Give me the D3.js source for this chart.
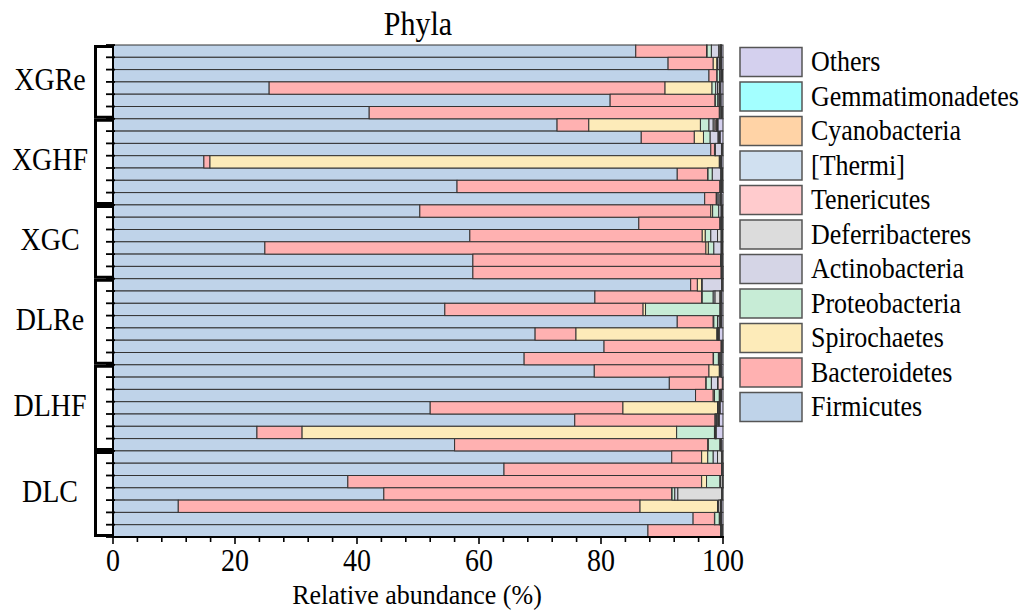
<!DOCTYPE html>
<html><head><meta charset="utf-8">
<script src="https://cdn.jsdelivr.net/npm/d3@7"></script>
<style>body{margin:0;background:#fff}svg text{font-family:"Liberation Serif","Times New Roman",serif;fill:#000}</style>
</head><body><svg id="c" width="1032" height="610"></svg>
<script>
const groups = ["XGRe","XGHF","XGC","DLRe","DLHF","DLC"];
const groupSizes = [6,7,6,7,7,7];
const phyla = ["Firmicutes","Bacteroidetes","Spirochaetes","Proteobacteria","Actinobacteria","Deferribacteres","Tenericutes","[Thermi]","Cyanobacteria","Gemmatimonadetes","Others"];
const colors = ["#bfd3e9","#ffb1b1","#fdebb9","#c7ecd6","#d5d5e6","#dcdcdc","#ffcbcd","#d0e0f0","#ffd3a6","#a3ffff","#d4d0ee"];
const Firmicutes = [85.7,91.0,97.7,25.6,81.5,42.0,72.8,86.6,98.0,14.9,92.5,56.4,97.0,50.3,86.2,58.5,24.9,59.0,59.0,94.7,79.0,54.4,92.5,69.2,80.5,67.4,78.9,91.2,95.5,52.0,75.7,23.6,56.0,91.6,64.1,38.5,44.4,10.7,95.1,87.7];
const Bacteroidetes = [11.6,7.4,1.3,64.9,17.2,57.4,5.2,8.7,0.6,1.0,5.0,43.1,1.9,47.7,13.3,38.1,72.3,40.6,40.7,1.1,17.5,32.5,5.9,6.7,19.2,31.0,18.8,6.0,2.9,31.6,23.0,7.4,41.5,4.9,35.7,58.0,47.2,75.7,3.5,11.9];
const Spirochaetes = [0.1,0.6,0.05,7.7,0.05,0.05,18.3,1.5,0.05,83.5,0.05,0.05,0.05,0.3,0.05,0.5,0.4,0.05,0.05,0.7,0.1,0.4,0.1,23.1,0.05,0.05,1.7,0.05,0.2,15.5,0.05,61.4,0.1,1.0,0.03,0.8,0.05,12.7,0.05,0.05];
const Proteobacteria = [0.7,0.1,0.4,0.6,0.4,0.2,1.4,1.1,0.1,0.05,0.7,0.1,0.1,1.0,0.1,0.9,0.9,0.05,0.05,0.1,1.8,12.2,0.6,0.1,0.05,0.8,0.1,0.85,0.8,0.1,0.2,6.2,1.9,0.9,0.03,2.2,0.45,0.1,0.75,0.05];
const Actinobacteria = [1.2,0.3,0.2,0.3,0.2,0.1,0.7,1.3,1.0,0.05,1.4,0.1,0.3,0.4,0.1,1.1,1.2,0.05,0.05,3.2,0.3,0.1,0.3,0.1,0.05,0.2,0.1,1.0,0.1,0.1,0.2,0.1,0.1,0.7,0.03,0.1,0.5,0.1,0.1,0.05];
const Deferribacteres = [0.2,0.1,0.1,0.3,0.1,0.05,0.3,0.1,0.05,0.05,0.05,0.05,0.2,0.05,0.05,0.6,0.05,0.05,0.03,0.05,0.8,0.05,0.2,0.05,0.03,0.2,0.05,0.1,0.1,0.1,0.1,0.05,0.05,0.7,0.02,0.3,7.2,0.3,0.1,0.05];
const Tenericutes = [0.1,0.1,0.05,0.1,0.1,0.05,0.2,0.1,0.05,0.05,0.05,0.05,0.1,0.05,0.05,0.05,0.05,0.05,0.03,0.03,0.1,0.05,0.05,0.05,0.03,0.05,0.05,0.7,0.05,0.05,0.05,0.05,0.05,0.05,0.02,0.02,0.05,0.05,0.05,0.05];
const Thermi = [0.05,0.05,0.05,0.05,0.05,0.03,0.1,0.05,0.03,0.05,0.03,0.03,0.05,0.03,0.03,0.03,0.03,0.03,0.02,0.03,0.05,0.03,0.03,0.03,0.02,0.03,0.03,0.02,0.03,0.03,0.03,0.03,0.03,0.03,0.02,0.02,0.03,0.03,0.03,0.03];
const Cyanobacteria = [0.05,0.05,0.02,0.05,0.05,0.03,0.1,0.05,0.03,0.05,0.03,0.03,0.05,0.03,0.03,0.03,0.03,0.03,0.02,0.03,0.05,0.03,0.03,0.03,0.02,0.03,0.03,0.02,0.03,0.03,0.03,0.03,0.03,0.03,0.01,0.02,0.03,0.03,0.03,0.03];
const Gemmatimonadetes = [0.05,0.05,0.03,0.05,0.05,0.04,0.1,0.05,0.04,0.05,0.04,0.04,0.05,0.04,0.04,0.04,0.04,0.04,0.02,0.03,0.05,0.04,0.04,0.04,0.02,0.04,0.04,0.02,0.04,0.04,0.04,0.04,0.04,0.04,0.01,0.02,0.04,0.04,0.04,0.04];
const Others = [0.25,0.25,0.1,0.35,0.3,0.05,0.8,0.45,0.05,0.25,0.15,0.05,0.2,0.1,0.05,0.15,0.1,0.05,0.03,0.03,0.25,0.2,0.25,0.6,0.03,0.2,0.2,0.04,0.25,0.45,0.6,1.1,0.2,0.05,0.03,0.02,0.05,0.25,0.25,0.05];
const xTicks = [0,20,40,60,80,100];

const series = [Firmicutes,Bacteroidetes,Spirochaetes,Proteobacteria,Actinobacteria,Deferribacteres,Tenericutes,Thermi,Cyanobacteria,Gemmatimonadetes,Others];
const samples = [];
groups.forEach((g,gi)=>{for(let k=0;k<groupSizes[gi];k++) samples.push(g+"_"+(k+1));});
const table = samples.map((s,i)=>{const o={id:s};phyla.forEach((p,j)=>o[p]=series[j][i]);return o;});

const svg = d3.select("#c");
const L=113,R=723,T=45,B=537;
const x = d3.scaleLinear().domain([0,100]).range([L,R]);
const y = d3.scaleBand().domain(samples).range([T,B]).padding(0);
const color = d3.scaleOrdinal().domain(phyla).range(colors);
const stacked = d3.stack().keys(phyla)(table);

function txt(px,py,size,str,anchor,sy){
  return svg.append("text").attr("transform",`translate(${px},${py}) scale(1,${sy||1.15})`)
    .attr("text-anchor",anchor||"start").attr("font-size",size).text(str);
}

svg.append("g").selectAll("g").data(stacked).join("g")
  .attr("fill",d=>color(d.key))
  .selectAll("rect").data(d=>d).join("rect")
  .attr("x",d=>x(d[0])).attr("width",d=>Math.max(0,x(d[1])-x(d[0])))
  .attr("y",d=>y(d.data.id)).attr("height",y.bandwidth())
  .attr("stroke","#333").attr("stroke-width",1);

// title
txt(418,35,30,"Phyla","middle");

// x axis
const xa = svg.append("g").attr("transform",`translate(0,${B})`);
xa.append("line").attr("x1",L-1).attr("x2",R+1).attr("stroke","#000").attr("stroke-width",2);
xa.selectAll(".mn").data(d3.range(0,101,4)).join("line")
  .attr("x1",d=>x(d)).attr("x2",d=>x(d)).attr("y1",0).attr("y2",d=>d%20===0?7:5)
  .attr("stroke","#000").attr("stroke-width",1.6);
xTicks.forEach(t=>txt(x(t),571,28,String(t),"middle",1.12));
txt(417,604,26,"Relative abundance (%)","middle",1.08);

// y axis
svg.append("line").attr("x1",L).attr("x2",L).attr("y1",T).attr("y2",B).attr("stroke","#000").attr("stroke-width",2);
const bounds = samples.map(s=>y(s)).concat([B]);
svg.append("g").selectAll("line").data(bounds).join("line")
  .attr("x1",L-7).attr("x2",L+2).attr("y1",d=>d).attr("y2",d=>d).attr("stroke","#000").attr("stroke-width",1.8);

// group brackets
let start=0;
groups.forEach((g,gi)=>{
  const y0=y(samples[start]), y1=y(samples[start+groupSizes[gi]-1])+y.bandwidth();
  svg.append("path").attr("d",`M${L},${y0+1.5}H95.5V${y1-1.5}H${L}`).attr("fill","none").attr("stroke","#000").attr("stroke-width",3);
  txt(50,(y0+y1)/2+8,28,g,"middle");
  start+=groupSizes[gi];
});

// legend
const legOrder = phyla.slice().reverse();
legOrder.forEach((p,i)=>{
  const cy = 62 + i*34.5;
  svg.append("rect").attr("x",740).attr("y",cy-14.5).attr("width",62).attr("height",29)
    .attr("fill",color(p)).attr("stroke","#555").attr("stroke-width",1.5);
  txt(811,cy+9,26,p,"start");
});
</script></body></html>
